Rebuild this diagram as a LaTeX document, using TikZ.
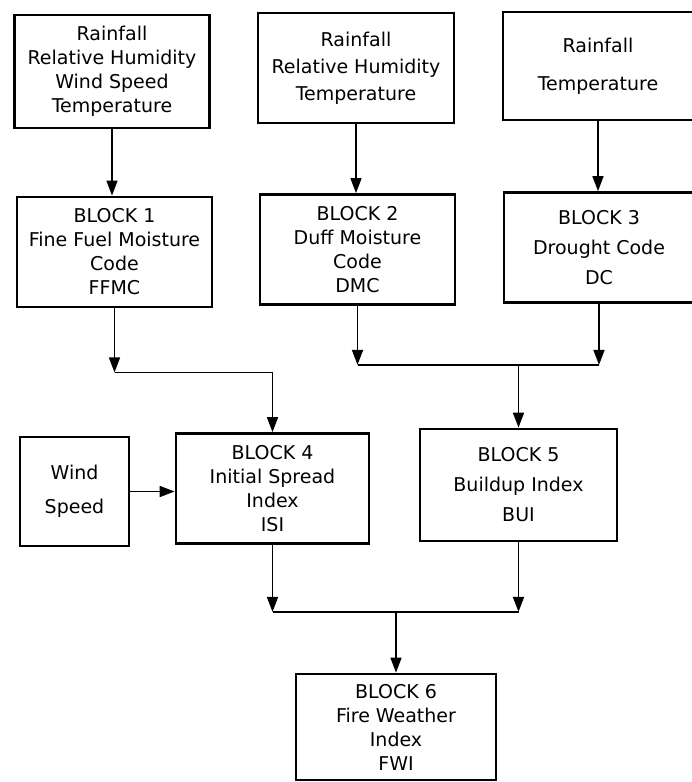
\documentclass[tikz,border=0pt]{standalone}
\usepackage{fontspec}
\setmainfont{DejaVu Sans}
\usetikzlibrary{arrows.meta, positioning, calc}

\begin{document}
\begin{tikzpicture}[
    font=\fontsize{19}{24}\selectfont,
    >={Triangle[length=15pt, width=11pt]},
    block/.style={
        draw=black,
        line width=2.8pt,
        align=center,
        inner sep=2pt,
        minimum width=#1,
        minimum height=110pt
    },
    block/.default=195pt,
    arrow/.style={->, line width=1.7pt}
]
\useasboundingbox (0pt,0pt) rectangle (691pt,-782pt);

% Weather inputs
\node[block, minimum height=113pt] (in1) at (112pt, -71.5pt) {
    Rainfall\\Relative Humidity\\Wind Speed\\Temperature
};
\node[block=196pt] (in2) at (356pt, -68pt) {
    Rainfall\\[3pt]Relative Humidity\\[3pt]Temperature
};
\node[block=190pt, minimum height=108pt] (in3) at (598pt, -66pt) {
    Rainfall\\[14pt]Temperature
};

% Moisture codes
\node[block] (b1) at (114.5pt, -252pt) {
    BLOCK 1\\Fine Fuel Moisture\\Code\\FFMC
};
\node[block] (b2) at (357.5pt, -249.5pt) {
    BLOCK 2\\Duff Moisture\\Code\\DMC
};
\node[block=190pt] (b3) at (599pt, -247.5pt) {
    BLOCK 3\\[6pt]Drought Code\\[6pt]DC
};

\draw[arrow] (in1.south) -- (in1.south |- b1.north);
\draw[arrow] (in2.south) -- (in2.south |- b2.north);
\draw[arrow] (in3.south) -- (in3.south |- b3.north);

% Fire behaviour indices
\node[block=109pt, minimum height=109pt] (wind) at (74.5pt, -491.5pt) {
    Wind\\[10pt]Speed
};
\node[block=193pt] (b4) at (272.5pt, -488.5pt) {
    BLOCK 4\\Initial Spread\\Index\\ISI
};
\node[block=197pt, minimum height=112pt] (b5) at (518.5pt, -485pt) {
    BLOCK 5\\[6pt]Buildup Index\\[6pt]BUI
};

\coordinate (j1) at ([yshift=-64pt]b1.south);
\draw[arrow] (b1.south) -- (j1);
\draw[arrow] (j1) -| (b4.north);

\coordinate (j2) at ([yshift=-59pt]b2.south);
\coordinate (j3) at (b3.south |- j2);
\draw[arrow] (b2.south) -- (j2);
\draw[arrow] (b3.south) -- (j3);
\draw[line width=1.7pt] (j2) -- (j3);
\draw[arrow] (b5.north |- j2) -- (b5.north);

\draw[arrow] (wind.east) -- (wind.east -| b4.west);

% Final index
\node[block=200pt, minimum height=106pt] (b6) at (396pt, -727pt) {
    BLOCK 6\\Fire Weather\\Index\\FWI
};

\coordinate (j4) at ([yshift=-67pt]b4.south);
\coordinate (j5) at (b5.south |- j4);
\draw[arrow] (b4.south) -- (j4);
\draw[arrow] (b5.south) -- (j5);
\draw[line width=1.7pt] (j4) -- (j5);
\draw[arrow] (b6.north |- j4) -- (b6.north);

\end{tikzpicture}
\end{document}
